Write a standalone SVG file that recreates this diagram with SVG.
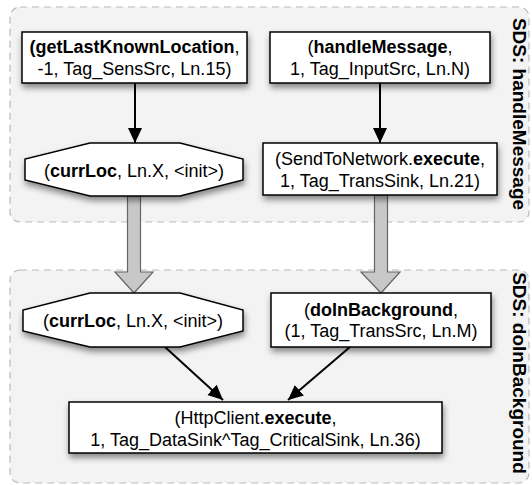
<svg xmlns="http://www.w3.org/2000/svg" width="532" height="485" viewBox="0 0 532 485">
<style>
.cont{fill:#f3f3f3;stroke:#bbbbbb;stroke-width:1.2;stroke-dasharray:7 5}
.node{fill:#ffffff;stroke:#000000;stroke-width:1.5;filter:url(#sh)}
.t{font-family:"Liberation Sans",Arial,sans-serif;font-size:18px;fill:#000;text-anchor:middle}
.b{font-weight:bold}
.lab{font-family:"Liberation Sans",Arial,sans-serif;font-size:19px;font-weight:bold;fill:#000;text-anchor:middle}
.edge{stroke:#000;stroke-width:2;fill:none;marker-end:url(#ah)}
.block{fill:#c8c8c8;stroke:#666666;stroke-width:1.2}
</style>
<defs>
<filter id="sh" x="-20%" y="-30%" width="140%" height="170%">
<feDropShadow dx="1" dy="4" stdDeviation="3" flood-color="#000" flood-opacity="0.45"/>
</filter>
<marker id="ah" markerUnits="userSpaceOnUse" markerWidth="16" markerHeight="16" refX="15" refY="7" orient="auto">
<path d="M0,0 L15,7 L0,14 Z" fill="#000"/>
</marker>
</defs>

<g id="sds-handleMessage">
<rect class="cont" x="10" y="7" width="519" height="215" rx="10"/>
<text class="lab" transform="translate(512.5,114) rotate(90)">SDS: handleMessage</text>
</g>
<g id="sds-doInBackground">
<rect class="cont" x="10" y="270" width="519" height="213" rx="10"/>
<text class="lab" transform="translate(512.5,373) rotate(90)">SDS: doInBackground</text>
</g>

<g id="connectors">
<path class="block" d="M127.5,196 L140.5,196 L140.5,272 L153,272 L134,293 L115,272 L127.5,272 Z"/>
<path class="block" d="M374.5,195 L387.5,195 L387.5,272 L400,272 L381,293 L361,272 L374.5,272 Z"/>
<line class="edge" x1="135" y1="83" x2="135" y2="143"/>
<line class="edge" x1="380" y1="83" x2="380" y2="143"/>
<line class="edge" x1="165" y1="347" x2="223" y2="400"/>
<line class="edge" x1="350" y1="347" x2="288" y2="400"/>
</g>

<g id="getLastKnownLocation">
<rect class="node" x="22" y="32" width="225" height="51"/>
<text class="t" x="134.5" y="53"><tspan class="b">(getLastKnownLocation</tspan>,</text>
<text class="t" x="134.5" y="75">-1, Tag_SensSrc, Ln.15)</text>
</g>

<g id="handleMessage">
<rect class="node" x="270" y="32" width="220" height="51"/>
<text class="t" x="380" y="53">(<tspan class="b">handleMessage</tspan>,</text>
<text class="t" x="380" y="75">1, Tag_InputSrc, Ln.N)</text>
</g>

<g id="currLoc1">
<polygon class="node" points="90,143 180,143 243,159 243,180 180,196 90,196 25,180 25,159"/>
<text class="t" x="134" y="176.5">(<tspan class="b">currLoc</tspan>, Ln.X, &lt;init&gt;)</text>
</g>

<g id="sendToNetwork">
<rect class="node" x="263" y="143" width="234" height="52"/>
<text class="t" x="380" y="165">(SendToNetwork.<tspan class="b">execute</tspan>,</text>
<text class="t" x="380" y="187">1, Tag_TransSink, Ln.21)</text>
</g>

<g id="currLoc2">
<polygon class="node" points="90,293 180,293 243,310 243,331 180,347 90,347 23,331 23,310"/>
<text class="t" x="133" y="327">(<tspan class="b">currLoc</tspan>, Ln.X, &lt;init&gt;)</text>
</g>

<g id="doInBackground">
<rect class="node" x="271" y="293" width="220" height="54"/>
<text class="t" x="381" y="316">(<tspan class="b">doInBackground</tspan>,</text>
<text class="t" x="381" y="337">(1, Tag_TransSrc, Ln.M)</text>
</g>

<g id="httpClient">
<rect class="node" x="69" y="402" width="373" height="51"/>
<text class="t" x="255.5" y="424">(HttpClient.<tspan class="b">execute</tspan>,</text>
<text class="t" x="255.5" y="446">1, Tag_DataSink^Tag_CriticalSink, Ln.36)</text>
</g>
</svg>
